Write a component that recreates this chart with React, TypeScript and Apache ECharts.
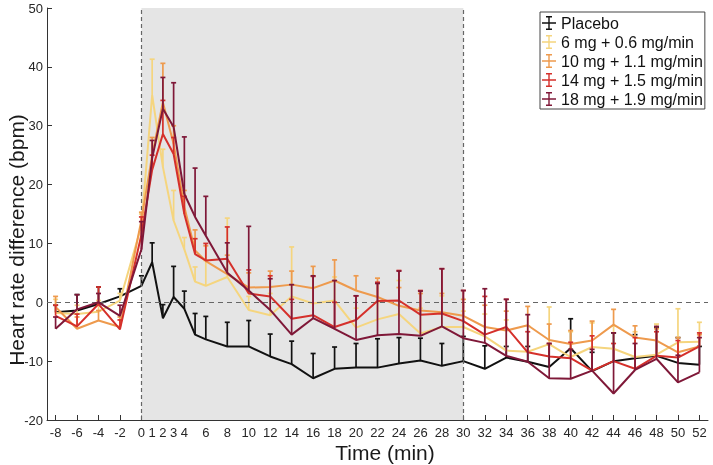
import React, { useEffect, useRef } from "react";
import * as echarts from "echarts";

const times = [-8, -6, -4, -2, 0, 1, 2, 3, 4, 5, 6, 8, 10, 12, 14, 16, 18, 20, 22, 24, 26, 28, 30, 32, 34, 36, 38, 40, 42, 44, 46, 48, 50, 52];
const xTickValues = [-8, -6, -4, -2, 0, 1, 2, 3, 4, 6, 8, 10, 12, 14, 16, 18, 20, 22, 24, 26, 28, 30, 32, 34, 36, 38, 40, 42, 44, 46, 48, 50, 52];
const seriesNames = ["Placebo", "6 mg + 0.6 mg/min", "10 mg + 1.1 mg/min", "14 mg + 1.5 mg/min", "18 mg + 1.9 mg/min"];
const seriesColors = ["#111111", "#F5D57E", "#EE9A4D", "#D5302B", "#7F1838"];

const placeboMean = [-1.7, -1.4, -0.3, 1.0, 2.8, 6.8, -2.7, 0.9, -1.1, -5.5, -6.3, -7.5, -7.5, -9.2, -10.5, -12.9, -11.3, -11.1, -11.1, -10.4, -9.9, -10.8, -10.0, -11.3, -9.4, -10.1, -11.0, -7.8, -11.7, -10.0, -9.5, -9.1, -10.3, -10.6];
const placeboErr = [1.2, 2.7, 2.9, 1.3, 1.7, 3.3, 2.3, 5.2, 3.0, 3.6, 3.9, 4.1, 4.4, 3.8, 3.9, 4.2, 3.7, 4.1, 4.9, 4.4, 3.8, 3.8, 4.2, 3.9, 1.9, 2.6, 3.8, 5.0, 3.2, 4.8, 4.0, 4.9, 4.3, 3.1];

const dose6Mean = [-1.8, -2.0, -1.6, 0.3, 13.0, 35.2, 23.0, 13.9, 9.0, 3.5, 2.8, 4.3, -1.3, -2.2, 1.0, -0.2, 0.3, -4.3, -2.9, -2.0, -5.3, -4.2, -4.2, -5.8, -8.2, -8.4, -7.1, -9.3, -7.6, -7.9, -9.3, -8.9, -6.8, -6.7];
const dose6Err = [2.3, 1.5, 1.9, 1.2, 2.0, 6.1, 3.0, 5.1, 2.0, 2.5, 4.3, 10.0, 2.3, 3.7, 8.4, 2.7, 4.0, 3.3, 2.9, 5.7, 4.3, 5.3, 2.7, 3.8, 5.2, 4.4, 6.3, 4.3, 4.1, 3.9, 4.3, 5.2, 5.7, 3.3];

const dose10Mean = [-0.8, -4.5, -3.1, -4.2, 14.0, 25.0, 34.0, 26.9, 16.2, 8.8, 7.0, 4.8, 2.5, 2.6, 3.0, 2.4, 3.7, 2.0, 0.9, -0.6, -1.4, -1.7, -2.3, -4.2, -4.8, -3.9, -6.4, -7.1, -6.5, -3.8, -6.0, -6.5, -8.5, -7.5];
const dose10Err = [1.8, 2.0, 1.7, 1.7, 1.3, 3.0, 6.6, 3.1, 2.8, 3.5, 2.6, 3.2, 2.5, 2.7, 2.3, 3.7, 3.5, 2.5, 3.2, 3.1, 2.9, 3.2, 2.8, 3.7, 3.3, 3.2, 2.7, 2.3, 3.3, 2.6, 2.0, 2.0, 2.5, 2.0];

const dose14Mean = [-2.3, -4.1, -0.3, -4.6, 11.5, 22.5, 28.6, 25.2, 15.0, 8.2, 7.1, 7.4, 1.5, 1.0, -2.8, -2.2, -4.2, -3.0, 0.2, 0.3, -2.1, -1.9, -3.2, -5.5, -4.2, -8.5, -9.2, -9.5, -11.6, -10.0, -11.3, -9.1, -9.4, -7.5];
const dose14Err = [1.8, 2.1, 2.9, 1.6, 3.0, 2.5, 5.7, 2.8, 3.0, 2.6, 2.9, 5.4, 4.0, 3.5, 3.3, 6.6, 4.2, 4.1, 3.2, 5.1, 4.1, 7.6, 5.2, 6.5, 4.7, 3.5, 2.2, 2.7, 5.9, 3.0, 5.3, 4.1, 2.9, 2.3];

const dose18Mean = [-4.5, -1.2, 0.0, -2.3, 9.0, 24.5, 32.9, 29.8, 18.4, 14.5, 11.3, 5.0, 2.0, -1.3, -5.5, -2.7, -4.5, -6.4, -5.6, -5.4, -5.7, -4.1, -6.1, -6.9, -9.1, -10.1, -12.9, -13.0, -11.6, -15.5, -11.5, -9.6, -13.6, -11.9];
const dose18Err = [2.0, 2.5, 1.5, 1.8, 4.7, 3.0, 5.3, 7.5, 9.7, 8.3, 6.7, 5.1, 10.9, 5.3, 8.5, 7.2, 8.2, 7.5, 8.8, 10.7, 7.6, 9.8, 8.1, 9.2, 9.6, 8.0, 5.9, 5.0, 3.6, 10.3, 4.5, 5.5, 4.6, 5.9];

const infusionStart = 0;
const infusionEnd = 30;

const FONT = "'Liberation Sans', Arial, Helvetica, sans-serif";
const LEGEND_ICON = "path://M0,6.3H14V7.7H0Z M6.3,0H7.7V14H6.3Z M4,0H10V1.4H4Z M4,12.6H10V14H4Z";

export default function App() {
  const ref = useRef<HTMLDivElement>(null);

  useEffect(() => {
    const chart = echarts.init(ref.current!, null, { renderer: "svg" });
    const groups = [
      { name: seriesNames[0], mean: placeboMean, err: placeboErr, color: seriesColors[0] },
      { name: seriesNames[1], mean: dose6Mean, err: dose6Err, color: seriesColors[1] },
      { name: seriesNames[2], mean: dose10Mean, err: dose10Err, color: seriesColors[2] },
      { name: seriesNames[3], mean: dose14Mean, err: dose14Err, color: seriesColors[3] },
      { name: seriesNames[4], mean: dose18Mean, err: dose18Err, color: seriesColors[4] },
    ];

    const series: any[] = [
      {
        type: "line",
        name: "__background",
        data: [],
        silent: true,
        z: 1,
        markArea: {
          silent: true,
          itemStyle: { color: "#E5E5E5" },
          data: [[{ xAxis: infusionStart }, { xAxis: infusionEnd }]],
        },
        markLine: {
          silent: true,
          symbol: ["none", "none"],
          label: { show: false },
          lineStyle: { color: "#666666", width: 1.2, type: [4, 3] },
          data: [{ xAxis: infusionStart }, { xAxis: infusionEnd }, { yAxis: 0, lineStyle: { type: [5, 4] } }],
        },
      },
    ];

    groups.forEach((g, k) => {
      series.push({
        type: "line",
        name: g.name,
        data: times.map((t, i) => [t, g.mean[i]]),
        symbol: "none",
        showSymbol: false,
        lineStyle: { color: g.color, width: 2 },
        itemStyle: { color: g.color },
        z: 3 + k,
      });
      series.push({
        type: "custom",
        name: g.name + " SEM",
        data: times.map((t, i) => [t, g.mean[i], g.err[i]]),
        encode: { x: 0, y: 1 },
        z: 3 + k,
        silent: true,
        renderItem: (params: any, api: any) => {
          const x = api.value(0);
          const m = api.value(1);
          const e = api.value(2);
          const base = api.coord([x, m]);
          const top = api.coord([x, m + e]);
          const hw = 2.5;
          return {
            type: "group",
            children: [
              { type: "line", shape: { x1: base[0], y1: base[1], x2: top[0], y2: top[1] }, style: { stroke: g.color, lineWidth: 1.7 } },
              { type: "line", shape: { x1: top[0] - hw, y1: top[1], x2: top[0] + hw, y2: top[1] }, style: { stroke: g.color, lineWidth: 1.7 } },
            ],
          };
        },
      });
    });

    const option: any = {
      animation: false,
      textStyle: { fontFamily: FONT },
      grid: { left: 47, right: 5, top: 8, bottom: 45, containLabel: false, outerBoundsMode: "none" },
      legend: {
        data: seriesNames,
        orient: "vertical",
        left: 540,
        top: 12,
        padding: [3, 2, 2, 2],
        itemGap: 3,
        itemWidth: 14,
        itemHeight: 16,
        icon: LEGEND_ICON,
        backgroundColor: "#FFFFFF",
        borderColor: "#444444",
        borderWidth: 1,
        borderRadius: 0,
        selectedMode: false,
        textStyle: { fontFamily: FONT, fontSize: 16, color: "#111111", lineHeight: 16 },
      },
      xAxis: {
        type: "value",
        min: -8.8,
        max: 52.8,
        splitLine: { show: false },
        axisLine: { show: true, onZero: false, lineStyle: { color: "#333333", width: 1 } },
        axisTick: { show: true, inside: true, length: 5, customValues: xTickValues, lineStyle: { color: "#333333" } },
        axisLabel: { customValues: xTickValues, fontFamily: FONT, fontSize: 13, color: "#262626", margin: 6 },
      },
      yAxis: {
        type: "value",
        min: -20,
        max: 50,
        interval: 10,
        splitLine: { show: false },
        axisLine: { show: true, onZero: false, lineStyle: { color: "#333333", width: 1 } },
        axisTick: { show: true, inside: true, length: 5, lineStyle: { color: "#333333" } },
        axisLabel: { fontFamily: FONT, fontSize: 13, color: "#262626", margin: 4 },
      },
      graphic: [
        {
          type: "text",
          x: 16,
          y: 240,
          rotation: Math.PI / 2,
          style: { text: "Heart rate difference (bpm)", fontFamily: FONT, fontSize: 21, fill: "#1a1a1a", align: "center", verticalAlign: "middle" },
        },
        {
          type: "text",
          x: 385,
          y: 452,
          style: { text: "Time (min)", fontFamily: FONT, fontSize: 21, fill: "#1a1a1a", align: "center", verticalAlign: "middle" },
        },
      ],
      series,
    };

    chart.setOption(option);
    return () => chart.dispose();
  }, []);

  return <div ref={ref} style={{ position: "fixed", left: 0, top: 0, width: 713, height: 465 }} />;
}
